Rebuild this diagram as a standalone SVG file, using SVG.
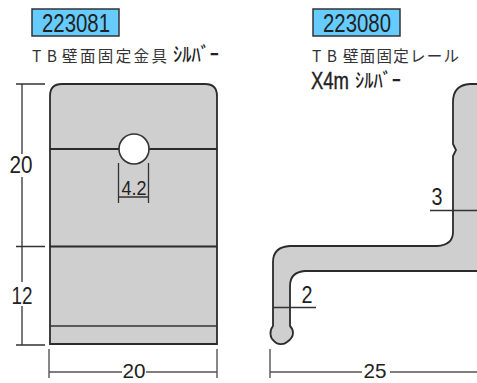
<svg xmlns="http://www.w3.org/2000/svg" width="477" height="383" viewBox="0 0 477 383">
<style>
.part{fill:#cfcfcf;stroke:#2b2b2b;stroke-width:1.8}
.edge{fill:none;stroke:#2b2b2b;stroke-width:1.8}
.thin{fill:none;stroke:#333;stroke-width:1.3}
.dim{fill:none;stroke:#333;stroke-width:1.3}
.dimg{fill:none;stroke:#555;stroke-width:1.4}
.badge{fill:#66ccff;stroke:#333;stroke-width:1.5}
text{fill:#222;font-family:"Liberation Sans","Noto Sans CJK JP",sans-serif}
.num{font-size:24px;text-anchor:middle}
.low{font-size:21px;text-anchor:middle}
.code{font-size:25px;text-anchor:middle}
.cap{font-family:"Noto Sans CJK JP","Liberation Sans",sans-serif;font-size:15.500px;fill:#333}
.kana{font-family:"Noto Sans CJK JP","Liberation Sans",sans-serif;font-size:20px;font-weight:500}
.mark{font-size:24px;stroke:#222;stroke-width:.4}
</style>
<g id="label-223081">
<rect class="badge" x="32" y="9" width="87" height="27"/>
<text class="code" x="76" y="32" textLength="68" lengthAdjust="spacingAndGlyphs">223081</text>
</g>
<g id="caption-223081">
<text class="cap" x="32" y="62" textLength="25" lengthAdjust="spacing">TB</text>
<text class="cap" x="62" y="62" textLength="105" lengthAdjust="spacing">壁面固定金具</text>
<text class="kana" x="173" y="62" textLength="46" lengthAdjust="spacingAndGlyphs">ｼﾙﾊﾞｰ</text>
</g>
<g id="label-223080">
<rect class="badge" x="313" y="9" width="87" height="27"/>
<text class="code" x="357" y="32" textLength="68" lengthAdjust="spacingAndGlyphs">223080</text>
</g>
<g id="caption-223080">
<text class="cap" x="312" y="62" textLength="25" lengthAdjust="spacing">TB</text>
<text class="cap" x="343" y="62" textLength="116" lengthAdjust="spacing">壁面固定レール</text>
<text class="mark" transform="translate(311 89) scale(.77 1)">X4m</text>
<text class="kana" x="355" y="88" textLength="46" lengthAdjust="spacingAndGlyphs">ｼﾙﾊﾞｰ</text>
</g>
<g id="plate">
<path class="part" d="M50 344V96Q50 84 62 84H205Q217 84 217 96V344Z"/>
<path class="edge" d="M50 149H217M50 246.500H217"/>
<path class="thin" d="M50 326H217"/>
<circle cx="134" cy="149" r="15" fill="#fff" stroke="#333" stroke-width="1.600"/>
</g>
<g id="rail">
<path class="part" d="M477 84H470Q453 85 453 102V144L456 150L453 156V232Q453 245 437 246H290Q273 247 273 262V326C269 331 270 338 274 341C277 345 284 345 287 342Q293 338 293 333Q293 329 290 326V286Q290 272 305 271H477"/>
</g>
<g id="connectors">
<path class="dim" d="M22 84V154M22 177V282M22 306V345M16 84H45M16 246.500H45M16 345H45"/>
<path class="dimg" d="M49 349V378M217 349V378M49 372H122M146 372H217"/>
<path class="dim" d="M118.500 163V203M148.500 163V203M118.500 197H148.500"/>
<path class="dimg" d="M270 349V378M270 372H362M390 372H477"/>
<path class="dim" d="M430 210.500H477M273 307.500H316"/>
</g>
<g id="dimension-labels">
<text class="num" x="21" y="173" textLength="23" lengthAdjust="spacingAndGlyphs">20</text>
<text class="num" x="22" y="304" textLength="21" lengthAdjust="spacingAndGlyphs">12</text>
<text class="low" x="134" y="378" textLength="23" lengthAdjust="spacingAndGlyphs">20</text>
<text class="num" x="134" y="195" style="font-size:21px" textLength="25" lengthAdjust="spacingAndGlyphs">4.2</text>
<text class="low" x="375" y="378" textLength="23" lengthAdjust="spacingAndGlyphs">25</text>
<text class="num" x="437" y="205" textLength="11" lengthAdjust="spacingAndGlyphs">3</text>
<text class="num" x="307" y="303" textLength="11" lengthAdjust="spacingAndGlyphs">2</text>
</g>
</svg>
